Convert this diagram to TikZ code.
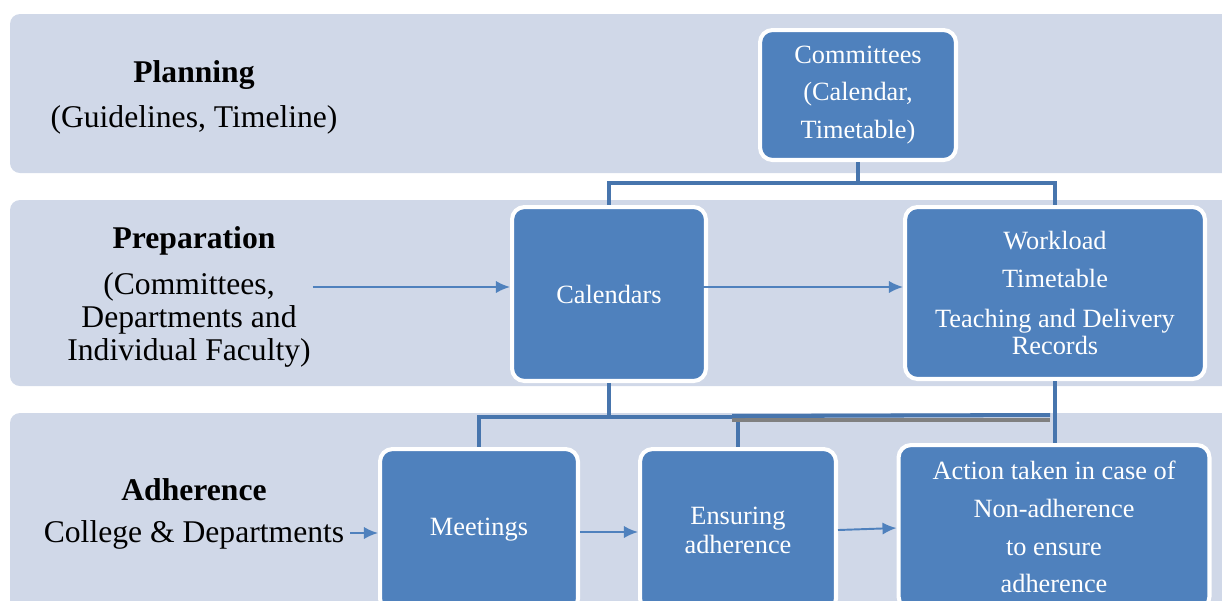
\documentclass[tikz,border=0pt]{standalone}
\usepackage{fontspec}
\setmainfont{Liberation Serif}
\usetikzlibrary{arrows.meta,calc}
\definecolor{bandgray}{HTML}{D0D8E8}
\definecolor{boxblue}{HTML}{4F81BD}
\definecolor{treeblue}{HTML}{4775AD}
\begin{document}
\begin{tikzpicture}[x=.02cm,y=-.02cm,
 band/.style={fill=bandgray,rounded corners=.2cm},
 blok/.style={draw=white,line width=2.3pt,fill=boxblue,rounded corners=.25cm,
  text=white,align=center,font=\fontsize{15}{21.5}\selectfont},
 lbl/.style={align=center,font=\fontsize{18}{18.7}\selectfont},
 ttl/.style={font=\fontsize{18}{20}\selectfont\bfseries},
 tree/.style={draw=treeblue,line width=2.3pt},
 arr/.style={draw=boxblue,line width=1.1pt,-{Latex[length=8pt,width=7pt]}}]
 \useasboundingbox (0,0) rectangle (1222,600);
 \clip (0,0) rectangle (1222,600);
 % bands
 \path[band] (10,14) rectangle (1250,173);
 \path[band] (10,200) rectangle (1250,386);
 \path[band] (10,413) rectangle (1250,640);
 \path
 (194,75) node[ttl] (plan) {Planning} % <<< row 1
 (194,120) node[lbl] (plandesc) {(Guidelines, Timeline)}
 (858,95) node[blok,minimum width=3.92cm,minimum height=2.6cm] (comm)
  {Committees\\(Calendar,\\Timetable)}
 (194,241) node[ttl] (prep) {Preparation} % <<< row 2
 (189,320) node[lbl] (prepdesc) {(Committees,\\Departments and\\Individual Faculty)}
 (609,294) node[blok,minimum width=3.88cm,minimum height=3.48cm] (cal) {Calendars}
 (1055,293) node[blok,minimum width=6cm,minimum height=3.44cm] (work)
  {Workload\\Timetable\\[1pt]Teaching and Delivery\\[-6.2pt]Records}
 (194,490) node[ttl] (adh) {Adherence} % <<< row 3
 (194,535) node[lbl] (adhdesc) {College \& Departments}
 (479,530) node[blok,minimum width=3.96cm,minimum height=3.24cm] (meet) {Meetings}
 (738,530) node[blok,minimum width=3.92cm,minimum height=3.24cm] (ens) {Ensuring\\[-5pt]adherence}
 (1054,527) node[blok,minimum width=6.22cm,minimum height=3.28cm] (act)
  {Action taken in case of\\Non-adherence\\to ensure\\adherence};
 % connectors
 \draw[tree] (comm.south) -- ++(0,21) -| (cal.north);
 \draw[tree] (comm.south) -- ++(0,21) -| (work.north);
 \draw[tree] (cal.south) -- ++(0,34) coordinate (fork) -| (meet.north);
 \draw[tree] (cal.south) -- ++(0,34) -| (ens.north);
 \draw[tree] (work.south) -- (work.south |- act.north);
 \draw[draw=gray,line width=2.3pt] ($(ens.north |- fork)+(-6,3)$) -- ($(work.south |- fork)+(-5,3)$);
 \draw[tree] ($(ens.north |- fork)+(-6,-1)$) -- ($(work.south |- fork)+(-5,-2)$);
 \draw[arr] ($(prepdesc.east |- cal.west)+(-4,-7)$) -- ($(cal.west)+(0,-7)$);
 \draw[arr] ($(cal.east)+(-22,-7)$) -- ($(work.west)+(0,-6)$);
 \draw[arr] ($(adhdesc.east)+(0,-2)$) -- ($(meet.west)+(0,3)$);
 \draw[arr] ($(meet.east)+(0,2)$) -- ($(ens.west)+(0,2)$);
 \draw[arr] ($(ens.east)+(0,0)$) -- ($(act.west)+(0,1)$);
\end{tikzpicture}
\end{document}
